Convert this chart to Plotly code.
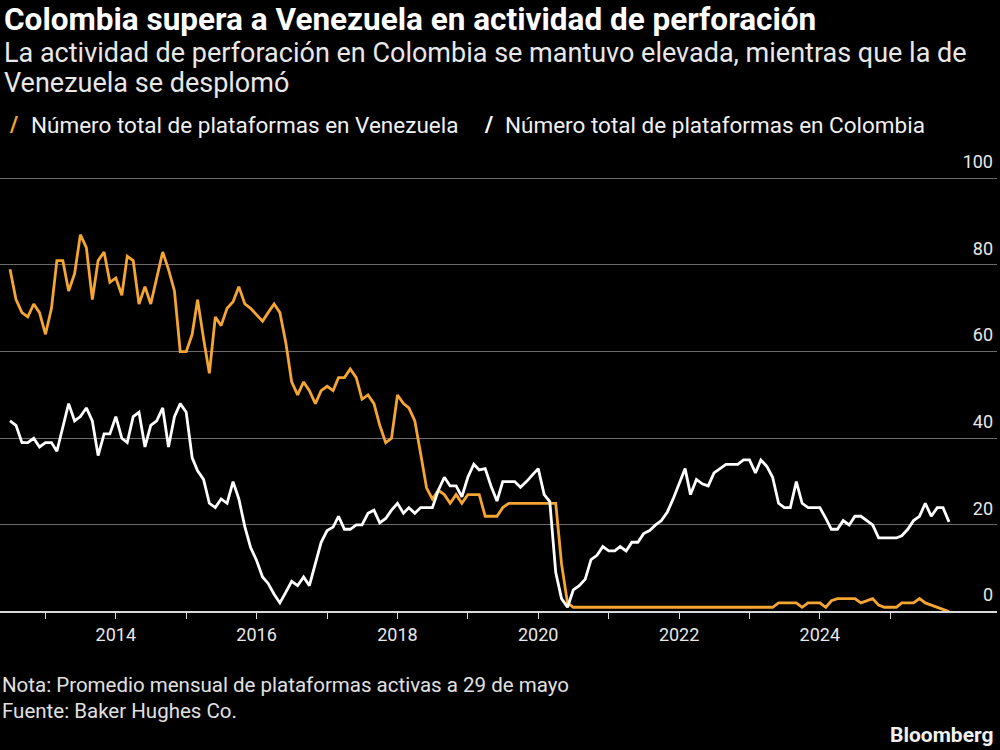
import plotly.graph_objects as go
import pandas as pd

# Monthly average active rigs
venezuela = [
    79, 72, 69, 68, 71, 69, 64, 70, 81, 81,
    74, 78, 87, 84, 72, 81, 83, 76, 77, 73,
    82, 81, 71, 75, 71, 77, 83, 79, 74, 60,
    60, 64, 72, 63, 55, 68, 66, 70, 71.5, 75,
    71, 70, 68.5, 67, 69, 71, 69, 62, 53, 50,
    53, 51, 48, 51, 52, 51, 54, 54, 56, 54,
    49, 50, 48, 43, 39, 40, 50, 48, 47, 44,
    36.5, 28.5, 26, 28, 27, 25, 27, 25, 27, 27,
    27, 22, 22, 22, 24, 25, 25, 25, 25, 25,
    25, 25, 25, 25, 11, 2, 1, 1, 1, 1,
    1, 1, 1, 1, 1, 1, 1, 1, 1, 1,
    1, 1, 1, 1, 1, 1, 1, 1, 1, 1,
    1, 1, 1, 1, 1, 1, 1, 1, 1, 1,
    1, 2, 2, 2, 2, 1, 2, 2, 2, 1,
    2.5, 3, 3, 3, 3, 2, 2.5, 3, 1.5, 1,
    1, 1, 2, 2, 2, 3, 2, 1.5, 1, 0.5,
    0,
]
colombia = [
    44, 43, 39, 39, 40, 38, 39, 39, 37, 42.5,
    48, 44, 45, 47, 44, 36, 41, 41, 45, 40,
    39, 45, 46, 38, 43, 44, 47, 38, 45, 48,
    46, 35.5, 32.5, 30.5, 25, 24, 26, 25, 30, 26,
    19.6, 14.8, 11.8, 8, 6.5, 4, 2, 4.5, 7, 6,
    8, 6, 11, 16, 18.7, 19.5, 22, 19, 19, 20,
    20, 22.7, 23.4, 20.5, 21.5, 23.4, 25, 22.7, 24, 22.7,
    24, 24, 24, 28, 31, 29, 29, 26.5, 31, 34,
    32.7, 33, 29, 25.5, 30, 30, 30, 28.7, 30, 31.5,
    33, 27, 25.4, 9, 3, 1, 5, 6, 7.5, 12,
    13, 15, 14, 14, 15, 14, 16, 16, 18, 18.7,
    20, 21, 23, 26, 29.5, 33, 27, 30.5, 29.5, 29,
    32, 33, 34, 34, 34, 35, 35, 32, 35, 33.5,
    31, 25, 24, 24, 30, 25, 24, 24, 24, 21.5,
    19, 19, 21, 20, 22, 22, 21, 20, 17, 17,
    17, 17, 17.5, 19, 21, 22, 25, 22, 24, 24,
    20.7,
]
start_month = "2012-07-01"
tick_years = list(range(2013, 2026))
tick_labels = [str(y) if y % 2 == 0 else "" for y in tick_years]
y_ticks = [0, 20, 40, 60, 80, 100]

names = ["Número total de plataformas en Venezuela",
         "Número total de plataformas en Colombia"]
ORANGE = "#f5a532"
WHITE = "#ffffff"
BG = "#000000"
FONT = "Roboto"

W, H = 1000, 750


def px(x):
    return x / W


def py(y):
    return 1 - y / H


dates_v = pd.date_range(start_month, periods=len(venezuela), freq="MS")
dates_c = pd.date_range(start_month, periods=len(colombia), freq="MS")

fig = go.Figure()
fig.add_trace(go.Scatter(x=dates_v, y=venezuela, mode="lines", name=names[0],
                         line=dict(color=ORANGE, width=2.8), showlegend=False))
fig.add_trace(go.Scatter(x=dates_c, y=colombia, mode="lines", name=names[1],
                         line=dict(color=WHITE, width=2.8), showlegend=False))

# geometry: value 0 at y=611.6px, 4.333 px per unit
zero_px, ppu = 611.6, 4.333
bot_px, top_px = 616.0, 140.0
ymin = (zero_px - bot_px) / ppu
ymax = (zero_px - top_px) / ppu

fig.update_layout(
    width=W, height=H,
    paper_bgcolor=BG, plot_bgcolor=BG,
    margin=dict(l=0, r=0, t=0, b=0),
    font=dict(family=FONT, color="#e8e8e8"),
    xaxis=dict(
        type="date",
        domain=[0, 0.997],
        range=["2012-05-10", "2026-07-08"],
        anchor="free", position=py(zero_px),
        tickvals=[f"{y}-01-01" for y in tick_years],
        ticktext=tick_labels,
        ticks="outside", ticklen=7, tickwidth=1.2, tickcolor="#d8d8d8",
        showline=True, linecolor="#d8d8d8", linewidth=1.5,
        showgrid=False, zeroline=False,
        tickfont=dict(size=18, color="#e8e8e8", family=FONT),
    ),
    yaxis=dict(
        domain=[py(bot_px), py(top_px)],
        range=[ymin, ymax],
        side="right",
        tickvals=y_ticks,
        ticktext=[str(v) for v in y_ticks],
        ticklabelposition="inside top",
        ticklabelstandoff=1,
        ticklabelshift=-4,
        showgrid=True, gridcolor="#6b6b6b", gridwidth=1.3,
        zeroline=False, showline=False, ticks="",
        tickfont=dict(size=18, color="#e8e8e8", family=FONT),
    ),
)

annotations = [
    dict(text="<b>Colombia supera a Venezuela en actividad de perforación</b>",
         x=px(3), y=py(0), yanchor="top", borderpad=0,
         font=dict(size=31.5, color=WHITE, family=FONT)),
    dict(text="La actividad de perforación en Colombia se mantuvo elevada, mientras que la de",
         x=px(3), y=py(53), borderpad=0,
         font=dict(size=27, color="#e8e8e8", family=FONT)),
    dict(text="Venezuela se desplomó",
         x=px(3), y=py(83), borderpad=0,
         font=dict(size=27, color="#e8e8e8", family=FONT)),
    dict(text=f"<b><span style='color:{ORANGE}'>/</span></b>",
         x=px(7), y=py(125), font=dict(size=22, family=FONT)),
    dict(text=names[0],
         x=px(29), y=py(125), font=dict(size=22.5, color="#f0f0f0", family=FONT)),
    dict(text=f"<b><span style='color:{WHITE}'>/</span></b>",
         x=px(482), y=py(125), font=dict(size=22, family=FONT)),
    dict(text=names[1],
         x=px(503), y=py(125), font=dict(size=22.5, color="#f0f0f0", family=FONT)),
    dict(text="Nota: Promedio mensual de plataformas activas a 29 de mayo",
         x=px(0), y=py(685), font=dict(size=20.5, color="#e0e0e0", family=FONT)),
    dict(text="Fuente: Baker Hughes Co.",
         x=px(0), y=py(711), font=dict(size=20.5, color="#e0e0e0", family=FONT)),
    dict(text="<b>Bloomberg</b>", x=px(996), y=py(735), xanchor="right",
         font=dict(size=21, color="#f0f0f0", family=FONT)),
]
for a in annotations:
    a.setdefault("xanchor", "left")
    a.setdefault("yanchor", "middle")
    a.update(xref="paper", yref="paper", showarrow=False, align="left")
    fig.add_annotation(**a)

fig.write_html("out.html")
